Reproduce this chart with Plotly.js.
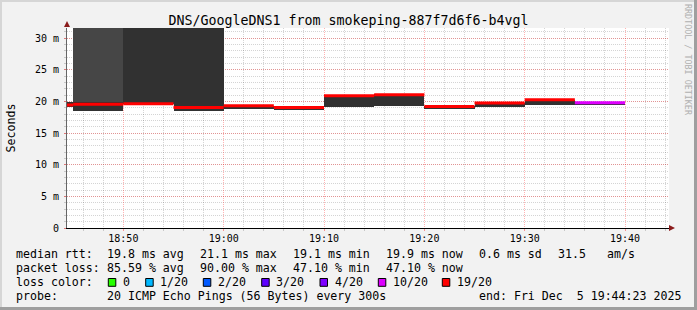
<!DOCTYPE html>
<html><head><meta charset="utf-8">
<script src="https://cdn.plot.ly/plotly-3.0.1.min.js"></script>
<style>html,body{margin:0;padding:0;background:#f2f2f2}</style>
</head><body>
<div id="chart" style="width:697px;height:310px"></div>
<script>
// ---- data ----
const day = '2025-12-05 ';
const intervalStart = ['18:40','18:45','18:50','18:55','19:00','19:05','19:10','19:15','19:20','19:25','19:30','19:35'];
const medianMs      = [19.45, 19.55, 19.65, 19.05, 19.3, 19.05, 20.9, 21.05, 19.2, 19.75, 20.25, 19.8];
const lossOf20      = [18, 18, 18, 18, 18, 18, 18, 18, 18, 18, 18, 9.42];
const smokeLoMs     = [19.1, 18.55, 19.6, 18.55, 18.8, 18.7, 19.15, 19.35, 18.85, 19.05, 19.5, 19.5];
const smokeHiMs     = [19.9, 19.95, 40, 40, 19.35, 19.1, 20.95, 21.1, 19.3, 19.8, 20.3, 19.85];
const outerSmokeStart = ['18:45'];
const outerSmokeLoMs  = [19.95];
const outerSmokeHiMs  = [40];
const yTickVals = [0, 5, 10, 15, 20, 25, 30];
const yTickText = ['0', '5 m', '10 m', '15 m', '20 m', '25 m', '30 m'];
const lossThresholds = [0, 1, 2, 3, 4, 10, 19];
const lossLabels = ['0', '1/20', '2/20', '3/20', '4/20', '10/20', '19/20'];
const lossColors = ['#26ff00', '#00b8ff', '#0059ff', '#5e00ff', '#7e00ff', '#dd00ff', '#ff0000'];
const statsRtt  = ['median rtt:', '19.8 ms avg', '21.1 ms max', '19.1 ms min', '19.9 ms now', '0.6 ms sd', '31.5', 'am/s'];
const statsLoss = ['packet loss:', '85.59 % avg', '90.00 % max', '47.10 % min', '47.10 % now'];
const probeText = ['probe:', '20 ICMP Echo Pings (56 Bytes) every 300s', 'end: Fri Dec  5 19:44:23 2025'];
const stepMin = 5;

// ---- helpers ----
const mono = 'DejaVu Sans Mono';
const W = 697, H = 310, M = {l: 67, r: 28, t: 28, b: 82};
const pw = W - M.l - M.r, ph = H - M.t - M.b;
const px2x = p => (p - M.l) / pw;
const px2y = p => (H - M.b - p) / ph;
const nb = s => s.replace(/ /g, '\u00a0');
function addMin(hhmm, m) {
  let [h, mi] = hhmm.split(':').map(Number);
  mi += m; h += Math.floor(mi / 60); mi = mi % 60;
  return String(h).padStart(2, '0') + ':' + String(mi).padStart(2, '0');
}
const ts = hhmm => day + hhmm + ':00';
function lossColor(l) {
  for (let i = 0; i < lossThresholds.length; i++) if (l <= lossThresholds[i]) return lossColors[i];
  return lossColors[lossColors.length - 1];
}

const traces = [];
// outer (lighter) smoke
traces.push({
  type: 'bar', x: outerSmokeStart.map(ts), base: outerSmokeLoMs,
  y: outerSmokeHiMs.map((v, i) => v - outerSmokeLoMs[i]),
  width: stepMin * 60000, offset: 0,
  marker: {color: '#464646', line: {width: 0}}, hoverinfo: 'skip'
});
// inner smoke
traces.push({
  type: 'bar', x: intervalStart.map(ts), base: smokeLoMs,
  y: smokeHiMs.map((v, i) => v - smokeLoMs[i]),
  width: stepMin * 60000, offset: 0,
  marker: {color: '#313131', line: {width: 0}}, hoverinfo: 'skip'
});
// median, coloured by loss
const groups = {};
intervalStart.forEach((s, i) => {
  const c = lossColor(lossOf20[i]);
  if (!groups[c]) groups[c] = {x: [], y: []};
  groups[c].x.push(ts(s), ts(addMin(s, stepMin)), null);
  groups[c].y.push(medianMs[i], medianMs[i], null);
});
Object.keys(groups).forEach(c => {
  traces.push({type: 'scatter', mode: 'lines', x: groups[c].x, y: groups[c].y,
    line: {color: c, width: 3}, connectgaps: false, hoverinfo: 'skip'});
});

// ---- annotations ----
const ann = [];
const txt = (s, px, py, extra) => Object.assign({
  text: nb(s), xref: 'paper', yref: 'paper', x: px2x(px), y: px2y(py),
  xanchor: 'left', yanchor: 'middle', showarrow: false, borderpad: 0, borderwidth: 0,
  font: {family: mono, size: 11.6, color: '#000'}
}, extra || {});
const col1 = [16, 106.5, 200, 292.5, 386, 478.5, 557.5, 606.5];
statsRtt.forEach((s, i) => ann.push(txt(s, col1[i], 254.3)));
statsLoss.forEach((s, i) => ann.push(txt(s, col1[i], 268.3)));
ann.push(txt('loss color:', 16, 282.3));
const boxX = [108.3, 145.7, 203.3, 261.7, 320, 378.3, 442.3];
const shapes = [];
lossLabels.forEach((l, i) => {
  ann.push(txt(l, boxX[i] + 14.5, 282.3));
  shapes.push({type: 'rect', xref: 'paper', yref: 'paper',
    x0: px2x(boxX[i]), x1: px2x(boxX[i] + 7.5), y0: px2y(286.3), y1: px2y(278.5),
    fillcolor: lossColors[i], line: {color: '#000', width: 1}});
});
ann.push(txt(probeText[0], 16, 296.3));
ann.push(txt(probeText[1], 106.5, 296.3));
ann.push(txt(probeText[2], 681, 296.3, {xanchor: 'right'}));
ann.push(txt('RRDTOOL / TOBI OETIKER', 688, 4, {xanchor: 'center', yanchor: 'top', textangle: 90,
  font: {family: mono, size: 8.4, color: '#b0b0b0'}}));

// frame
shapes.push({type: 'rect', xref: 'paper', yref: 'paper', x0: px2x(0), x1: px2x(697), y0: px2y(2), y1: px2y(0), fillcolor: '#d6d6d6', line: {width: 0}, layer: 'below'});
shapes.push({type: 'rect', xref: 'paper', yref: 'paper', x0: px2x(0), x1: px2x(2), y0: px2y(310), y1: px2y(0), fillcolor: '#d6d6d6', line: {width: 0}, layer: 'below'});
shapes.push({type: 'rect', xref: 'paper', yref: 'paper', x0: px2x(0), x1: px2x(697), y0: px2y(310), y1: px2y(307), fillcolor: '#9f9f9f', line: {width: 0}});
shapes.push({type: 'rect', xref: 'paper', yref: 'paper', x0: px2x(694), x1: px2x(697), y0: px2y(310), y1: px2y(0), fillcolor: '#9f9f9f', line: {width: 0}});
// axis arrows
shapes.push({type: 'path', xref: 'paper', yref: 'paper', xsizemode: 'pixel', ysizemode: 'pixel',
  xanchor: 0, yanchor: 1, path: 'M-3,1 L0,7 L3,1 Z', fillcolor: '#8b1c1c', line: {width: 0}});
shapes.push({type: 'path', xref: 'paper', yref: 'paper', xsizemode: 'pixel', ysizemode: 'pixel',
  xanchor: 1, yanchor: 0, path: 'M0,-3 L6,0 L0,3 Z', fillcolor: '#8b1c1c', line: {width: 0}});

const majorGrid = 'rgba(255,0,0,0.3)', minorGrid = 'rgba(0,0,0,0.17)';
const layout = {
  width: W, height: H, margin: M,
  paper_bgcolor: '#f2f2f2', plot_bgcolor: '#ffffff',
  showlegend: false, barmode: 'overlay', bargap: 0,
  title: {text: 'DNS/GoogleDNS1 from smokeping-887f7d6f6-b4vgl', x: 0.5, xref: 'container',
    y: 1 - 20 / H, yref: 'container', yanchor: 'middle', xanchor: 'center',
    font: {family: mono, size: 13.3, color: '#000'}},
  xaxis: {type: 'date', range: [day + '18:44:23', day + '19:44:23'],
    tick0: ts('18:50'), dtick: 600000, tickformat: '%H:%M',
    showgrid: true, gridcolor: majorGrid, griddash: '1px,1px', gridwidth: 1,
    minor: {tick0: ts('18:50'), dtick: 120000, showgrid: true, gridcolor: minorGrid, griddash: '1px,1px',
      ticks: 'outside', ticklen: 2, tickcolor: '#c8c8c8'},
    ticks: 'outside', ticklen: 2, tickcolor: 'rgba(255,0,0,0.4)',
    showline: true, linecolor: '#000', linewidth: 1, zeroline: false,
    tickfont: {family: mono, size: 10, color: '#000'}, ticklabelstandoff: -1, fixedrange: true},
  yaxis: {range: [0, 31.6], tickvals: yTickVals, ticktext: yTickText,
    showgrid: true, gridcolor: majorGrid, griddash: '1px,1px', gridwidth: 1,
    minor: {dtick: 1, showgrid: true, gridcolor: minorGrid, griddash: '1px,1px',
      ticks: 'outside', ticklen: 2, tickcolor: '#c8c8c8'},
    ticks: 'outside', ticklen: 2, tickcolor: 'rgba(255,0,0,0.4)',
    showline: true, linecolor: '#666', linewidth: 1, zeroline: false,
    tickfont: {family: mono, size: 10, color: '#000'}, ticklabelstandoff: 3,
    title: {text: 'Seconds', font: {family: mono, size: 11.6, color: '#000'}, standoff: 16},
    fixedrange: true},
  annotations: ann, shapes: shapes
};
Plotly.newPlot('chart', traces, layout, {displayModeBar: false, staticPlot: true});
</script>
</body></html>
